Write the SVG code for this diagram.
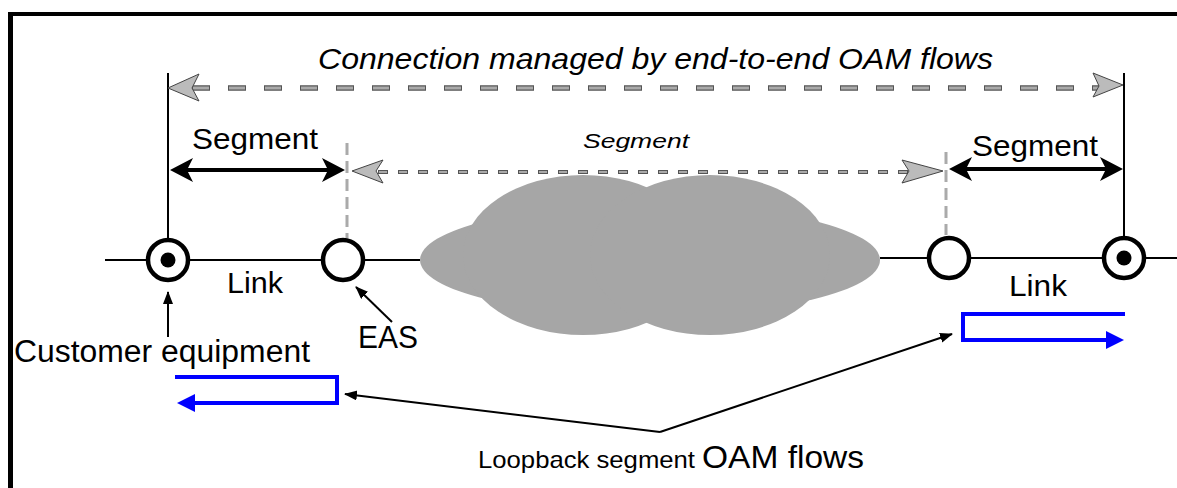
<svg xmlns="http://www.w3.org/2000/svg" width="1177" height="488" viewBox="0 0 1177 488">
<defs>
<style>
text{font-family:"Liberation Sans",Arial,sans-serif;fill:#000}
.it{font-style:italic}
.node{fill:#fff;stroke:#000;stroke-width:4.5}
.blk{stroke:#000;stroke-width:2;fill:none}
.gh{fill:#bbb;stroke:#444;stroke-width:1}
.blue{stroke:#0000ff;stroke-width:4;fill:none}
</style>
<marker id="ah" markerUnits="userSpaceOnUse" markerWidth="13" markerHeight="11" refX="12" refY="5" orient="auto">
<path d="M0,0 L13,5 L0,10 z" fill="#000"/>
</marker>
</defs>
<rect width="1177" height="488" fill="#fff"/>
<g id="frame">
<line x1="8" y1="14" x2="1177" y2="14" stroke="#000" stroke-width="4"/>
<line x1="10.5" y1="12" x2="10.5" y2="488" stroke="#000" stroke-width="5"/>
</g>
<g id="cloud" fill="#a6a6a6">
<ellipse cx="650" cy="260" rx="230" ry="56"/>
<ellipse cx="583" cy="255" rx="120" ry="80"/>
<ellipse cx="710" cy="255" rx="120" ry="80"/>
</g>
<g id="connectors">
<line class="blk" x1="105" y1="260" x2="420" y2="260"/>
<line class="blk" x1="880" y1="258" x2="1177" y2="258"/>
<line class="blk" x1="168" y1="73" x2="168" y2="240"/>
<line class="blk" x1="1124" y1="73" x2="1124" y2="236"/>
<line x1="347" y1="143" x2="347" y2="238" stroke="#aaa" stroke-width="3" stroke-dasharray="12 6"/>
<line x1="946" y1="152" x2="946" y2="235" stroke="#aaa" stroke-width="3" stroke-dasharray="12 6"/>
<line x1="192" y1="88" x2="1102" y2="88" stroke="#555" stroke-width="5.5" stroke-dasharray="18 18"/>
<line x1="192" y1="88" x2="1102" y2="88" stroke="#aaa" stroke-width="3" stroke-dasharray="16 20" stroke-dashoffset="-1"/>
<polygon class="gh" points="168,88 199,74 192,88 199,101"/>
<polygon class="gh" points="1123,85 1093,73 1099,86 1093,97"/>
<line x1="378" y1="172" x2="908" y2="172" stroke="#555" stroke-width="4" stroke-dasharray="10 10"/>
<line x1="378" y1="172" x2="908" y2="172" stroke="#aaa" stroke-width="2" stroke-dasharray="8 12" stroke-dashoffset="-1"/>
<polygon class="gh" points="352,171 383,160 376,171 383,183"/>
<polygon class="gh" points="943,171 902,160 909,171 902,183"/>
<line x1="185" y1="170" x2="330" y2="170" stroke="#000" stroke-width="4"/>
<polygon points="170,170 193,158 187,170 193,182" fill="#000"/>
<polygon points="345,170 322,158 328,170 322,182" fill="#000"/>
<line x1="962" y1="169" x2="1110" y2="169" stroke="#000" stroke-width="4"/>
<polygon points="949,169 972,157 966,169 972,181" fill="#000"/>
<polygon points="1123,169 1100,157 1106,169 1100,181" fill="#000"/>
<line class="blk" x1="168" y1="337" x2="168" y2="292" marker-end="url(#ah)"/>
<line class="blk" x1="392" y1="322" x2="356" y2="287" marker-end="url(#ah)"/>
<polyline class="blk" points="660,432 345,394" marker-end="url(#ah)"/>
<polyline class="blk" points="660,432 952,334" marker-end="url(#ah)"/>
<polyline class="blue" points="175,377 337,377 337,403 192,403"/>
<polygon points="177,403 195,394 195,412" fill="#0000ff"/>
<polyline class="blue" points="1125,314 963,314 963,340 1108,340"/>
<polygon points="1124,340 1106,331 1106,349" fill="#0000ff"/>
</g>
<g id="ce-left">
<circle class="node" cx="168" cy="260" r="20"/>
<circle cx="168" cy="260" r="7.5" fill="#000"/>
</g>
<g id="eas-left">
<circle class="node" cx="343" cy="260" r="20"/>
</g>
<g id="eas-right">
<circle class="node" cx="949" cy="258" r="20"/>
</g>
<g id="ce-right">
<circle class="node" cx="1124" cy="258" r="20"/>
<circle cx="1124" cy="258" r="7.5" fill="#000"/>
</g>
<g id="labels">
<text class="it" x="318" y="69" font-size="30" textLength="675" lengthAdjust="spacingAndGlyphs">Connection managed by end-to-end OAM flows</text>
<text x="192" y="149" font-size="29" textLength="126" lengthAdjust="spacingAndGlyphs">Segment</text>
<text class="it" x="583" y="148" font-size="21" textLength="106" lengthAdjust="spacingAndGlyphs">Segment</text>
<text x="972" y="156" font-size="29" textLength="126" lengthAdjust="spacingAndGlyphs">Segment</text>
<text x="227" y="293" font-size="30" textLength="56" lengthAdjust="spacingAndGlyphs">Link</text>
<text x="1009" y="296" font-size="30" textLength="58" lengthAdjust="spacingAndGlyphs">Link</text>
<text x="14" y="362" font-size="31" textLength="296" lengthAdjust="spacingAndGlyphs">Customer equipment</text>
<text x="358" y="348" font-size="31" textLength="60" lengthAdjust="spacingAndGlyphs">EAS</text>
<text x="478" y="468" font-size="24" textLength="217" lengthAdjust="spacingAndGlyphs">Loopback segment</text>
<text x="702" y="468" font-size="31" textLength="162" lengthAdjust="spacingAndGlyphs">OAM flows</text>
</g>
</svg>
